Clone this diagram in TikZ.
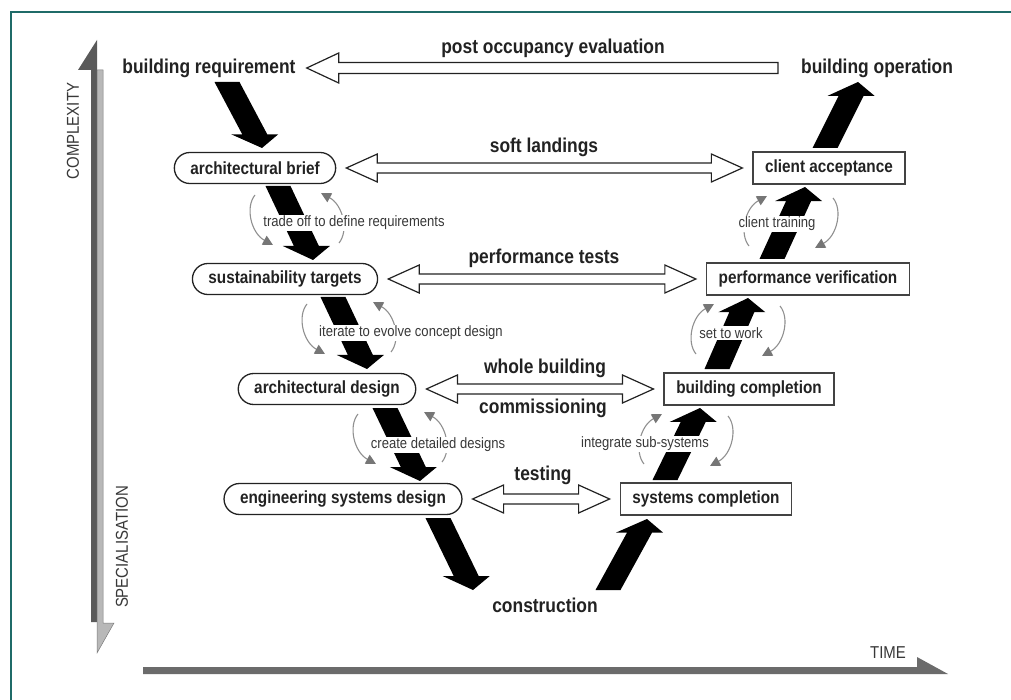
\documentclass[tikz,border=0pt]{standalone}
\usepackage{fontspec}
\setmainfont{Liberation Sans}[FakeStretch=0.87]
\usetikzlibrary{arrows.meta,calc}

\definecolor{ink}{HTML}{222222}
\definecolor{loopgrey}{HTML}{909090}
\definecolor{loophead}{HTML}{767676}
\definecolor{frameteal}{HTML}{1F6B68}
\definecolor{axisdark}{HTML}{5A5A5A}
\definecolor{axislight}{HTML}{B8B8B8}

\newcommand{\flowarrow}[4]{%
  \path ($(#1)+(#2)$) coordinate (t) ($(#3)+(#4)$) coordinate (h)
    ($(h)!15.5pt!(t)$) coordinate (b);
  \fill[fatarrow] ($(t)+(-12.5,0)$) -- ($(b)+(-12.5,0)$) -- ($(b)+(-23.5,0)$) -- (h)
    -- ($(b)+(23.5,0)$) -- ($(b)+(12.5,0)$) -- ($(t)+(12.5,0)$) -- cycle;}
\newcommand{\twoway}[2]{%
  \draw[wideline] ($(#1.east)+(10,0)$) -- ++(31,-14) -- ++(0,9) -- ($(#2.west)+(-41,-5)$)
    -- ++(0,-9) -- ($(#2.west)+(-10,0)$) -- ++(-31,14) -- ++(0,-9) -- ($(#1.east)+(41,5)$)
    -- ++(0,9) -- cycle;}
\newcommand{\turnccw}[1]{%
  \draw[loopline] ($(#1)+(-42,-24)$) .. controls +(-10,12) and +(-22,-12) .. ($(#1)+(-24,26)$);
  \draw[loopline] ($(#1)+(42,24)$) .. controls +(10,-12) and +(22,12) .. ($(#1)+(24,-26)$);}
\newcommand{\turncw}[1]{%
  \draw[loopline] ($(#1)+(-42,24)$) .. controls +(-10,-12) and +(-22,12) .. ($(#1)+(-24,-26)$);
  \draw[loopline] ($(#1)+(42,-24)$) .. controls +(10,12) and +(22,-12) .. ($(#1)+(24,26)$);}

\begin{document}
\begin{tikzpicture}[x=1pt,y=-1pt,
    stage/.style={font=\fontsize{20}{22}\selectfont\bfseries,text=ink,inner sep=0pt},
    pill/.style={draw=ink,line width=1.3pt,fill=white,rounded corners=15.5pt,minimum height=31pt,
      inner xsep=16pt,inner ysep=0pt,font=\fontsize{17.6}{20}\selectfont\bfseries,text=ink},
    donebox/.style={draw=ink!85,line width=1.6pt,fill=white,minimum height=32pt,
      inner xsep=12pt,inner ysep=0pt,font=\fontsize{17.6}{20}\selectfont\bfseries,text=ink},
    note/.style={font=\fontsize{15}{17}\selectfont,text=ink!90,fill=white,inner sep=1pt},
    axistext/.style={font=\fontsize{17.2}{19}\selectfont,text=ink!90,inner sep=0pt},
    wideline/.style={draw=ink,line width=1.2pt,fill=white,line join=miter},
    fatarrow/.style={fill=black},
    loopline/.style={draw=loopgrey,line width=1.1pt,
      -{Triangle[length=10pt,width=10pt,color=loophead]}}]
  \useasboundingbox (0,0) rectangle (1011,700);
  \draw[frameteal,line width=1.5pt] (11,700) -- (11,12) -- (1011,12);

  \fill[axisdark] (91,622) -- (91,70) -- (78,70) -- (97,40) -- (97,622) -- cycle;
  \filldraw[fill=axislight,draw=axisdark!80,line width=0.5pt] (97,70) -- (103,70) -- (103,623)
    -- (114,623) -- (97,653) -- cycle;
  \fill[axisdark!90] (143,667) -- (917,667) -- (917,657) -- (948,674) -- (143,674) -- cycle;
  \node[axistext,rotate=90] (complex) at (73,131) {COMPLEXITY};
  \node[axistext,rotate=90] (special) at (122,547) {SPECIALISATION};
  \node[axistext] (time) at (888,653) {TIME};

  \node[stage] (breq) at (209,68) {building requirement};
  \node[stage] (bop) at (877,68) {building operation};
  \node[stage] (constr) at (545,605) {construction};

  \node[pill] (brief) at (255,168) {architectural brief};
  \node[pill] (sust) at (285,279) {sustainability targets};
  \node[pill] (adesign) at (327,389) {architectural design};
  \node[pill] (esd) at (343,499) {engineering systems design};

  \node[donebox] (cacc) at (829,168) {client acceptance};
  \node[donebox] (pver) at (808,279) {performance verification};
  \node[donebox] (bcomp) at (749,389) {building completion};
  \node[donebox] (scomp) at (706,499) {systems completion};

  \draw[wideline] ($(breq.east)+(11,0)$) -- ++(32,-15) -- ++(0,9.5) -- ($(bop.west)+(-23,-5.5)$)
    -- ++(0,11) -- ($(breq.east)+(43,5.5)$) -- ++(0,9.5) -- cycle;
  \node[stage] (lpost) at (553,48) {post occupancy evaluation};
  \twoway{brief}{cacc}
  \node[stage] (lsoft) at (544,147) {soft landings};
  \twoway{sust}{pver}
  \node[stage] (lperf) at (544,258) {performance tests};
  \twoway{adesign}{bcomp}
  \node[stage] (lwhole) at (545,368) {whole building};
  \node[stage] (lcomm) at (543,408) {commissioning};
  \twoway{esd}{scomp}
  \node[stage] (ltest) at (543,475) {testing};

  \coordinate (c1) at (297,219);
  \coordinate (c2) at (349,328);
  \coordinate (c3) at (400,438);
  \coordinate (c4) at (686,440);
  \coordinate (c5) at (738,330);
  \coordinate (c6) at (791,222);
  \turnccw{c1} \turnccw{c2} \turnccw{c3}
  \turncw{c4} \turncw{c5} \turncw{c6}

  \flowarrow{breq}{18,14}{brief}{7,-20}
  \flowarrow{brief}{23,18}{sust}{28,-19}
  \flowarrow{sust}{48,18}{adesign}{40,-20}
  \flowarrow{adesign}{58,19}{esd}{77,-18}
  \flowarrow{esd}{95,19}{constr}{-72,-15}
  \flowarrow{constr}{63,-15}{scomp}{-59,20}
  \flowarrow{scomp}{-41,-19}{bcomp}{-49,19}
  \flowarrow{bcomp}{-32,-20}{pver}{-60,19}
  \flowarrow{pver}{-36,-20}{cacc}{-24,19}
  \flowarrow{cacc}{-4,-20}{bop}{-19,14}

  \node[note] (n1) at (354,223) {trade off to define requirements};
  \node[note] (n2) at (411,333) {iterate to evolve concept design};
  \node[note] (n3) at (438,445) {create detailed designs};
  \node[note] (n4) at (645,444) {integrate sub-systems};
  \node[note] (n5) at (731,333) {set to work};
  \node[note] (n6) at (777,224) {client training};
\end{tikzpicture}
\end{document}
